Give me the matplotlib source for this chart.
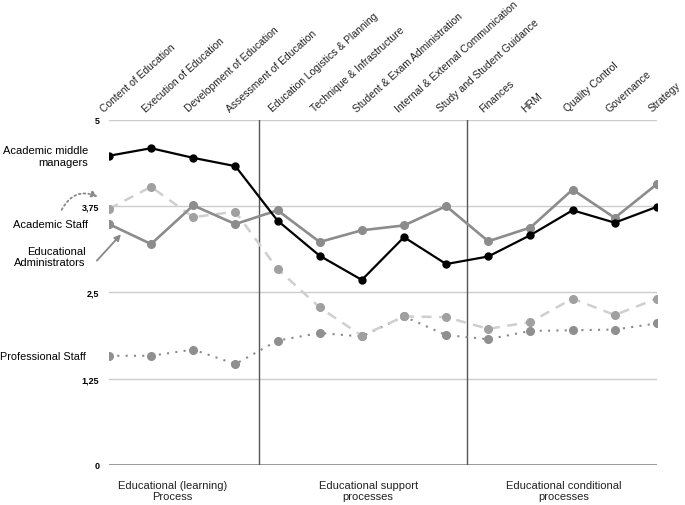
import matplotlib
matplotlib.use("Agg")
import matplotlib.pyplot as plt

# categories along the x axis (labels sit on top, rotated)
categories = [
    "Content of Education", "Execution of Education", "Development of Education",
    "Assessment of Education", "Education Logistics & Planning", "Technique & Infrastructure",
    "Student & Exam Administration", "Internal & External Communication",
    "Study and Student Guidance", "Finances", "HRM", "Quality Control", "Governance", "Strategy",
]

middle_managers = [4.48, 4.59, 4.45, 4.33, 3.54, 3.03, 2.68, 3.30, 2.91, 3.02, 3.33, 3.69, 3.51, 3.74]
edu_admins = [3.49, 3.20, 3.76, 3.49, 3.69, 3.23, 3.40, 3.47, 3.75, 3.24, 3.44, 3.99, 3.58, 4.07]
academic_staff = [3.71, 4.03, 3.59, 3.67, 2.84, 2.28, 1.87, 2.15, 2.14, 1.97, 2.07, 2.41, 2.17, 2.41]
professional_staff = [1.58, 1.58, 1.67, 1.46, 1.80, 1.91, 1.86, 2.15, 1.88, 1.82, 1.94, 1.95, 1.96, 2.05]

yticks = [0, 1.25, 2.5, 3.75, 5]
ytick_labels = ["0", "1,25", "2,5", "3,75", "5"]

groups = ["Educational (learning)\nProcess", "Educational support\nprocesses",
          "Educational conditional\nprocesses"]
group_centers = [1.5, 6.15, 10.8]
separators = [3.56, 8.5]

plt.rcParams["font.family"] = ["Liberation Sans", "DejaVu Sans"]

fig = plt.figure(figsize=(6.85, 5.06), dpi=100)
ax = fig.add_axes([0.159, 0.0796, 0.8, 0.6814])

x = list(range(len(categories)))

for y in yticks[1:]:
    ax.axhline(y, color="#cccccc", lw=1, zorder=0)
ax.axhline(0, color="#888888", lw=1.2, zorder=0)
for s in separators:
    ax.plot([s, s], [0, 5], color="#555555", lw=1, zorder=1)

ax.plot(x, professional_staff, color="#8a8a8a", lw=1.5, ls=(0, (1, 3)),
        marker="o", ms=5.5, mfc="#8f8f8f", mec="#8f8f8f", zorder=2)
ax.plot(x, academic_staff, color="#cfcfcf", lw=1.8, ls=(0, (4, 3)),
        marker="o", ms=5.5, mfc="#a0a0a0", mec="#a0a0a0", zorder=3)
ax.plot(x, edu_admins, color="#8c8c8c", lw=1.9, marker="o", ms=5.5,
        mfc="#8c8c8c", mec="#8c8c8c", zorder=4)
ax.plot(x, middle_managers, color="#000000", lw=1.6, marker="o", ms=5,
        mfc="#000000", zorder=5)

ax.set_xlim(0, 13)
ax.set_ylim(0, 5)
for sp in ax.spines.values():
    sp.set_visible(False)
ax.set_xticks([])
ax.set_yticks(yticks)
ax.set_yticklabels(ytick_labels, fontsize=6.5, fontweight="bold")
ax.tick_params(axis="y", length=0, pad=7)

# rotated category labels on top
for i, c in enumerate(categories):
    ax.text(i - 0.12, 5.12, c, rotation=42, ha="left", va="baseline",
            rotation_mode="anchor", fontsize=7.5, color="#222222")

# group labels below
for g, gx in zip(groups, group_centers):
    ax.text(gx, -0.22, g, ha="center", va="top", fontsize=8, color="#222222")

# series labels on the left
ax.text(-0.5, 4.48, "Academic middle\nmanagers", ha="right", va="center", fontsize=8)
ax.text(-0.5, 3.49, "Academic Staff", ha="right", va="center", fontsize=8)
ax.text(-0.55, 3.02, "Educational\nAdministrators", ha="right", va="center", fontsize=8)
ax.text(-0.55, 1.57, "Professional Staff", ha="right", va="center", fontsize=7.8)

ax.annotate("", xy=(-0.2, 3.87), xytext=(-1.15, 3.66), annotation_clip=False,
            arrowprops=dict(arrowstyle="-|>", color="#888888", ls=":", lw=1.3,
                            connectionstyle="arc3,rad=-0.5", mutation_scale=9))
ax.annotate("", xy=(0.33, 3.37), xytext=(-0.33, 2.93), annotation_clip=False,
            arrowprops=dict(arrowstyle="-|>", color="#888888", lw=1.3, mutation_scale=9))

fig.savefig("out.png", dpi=100)
